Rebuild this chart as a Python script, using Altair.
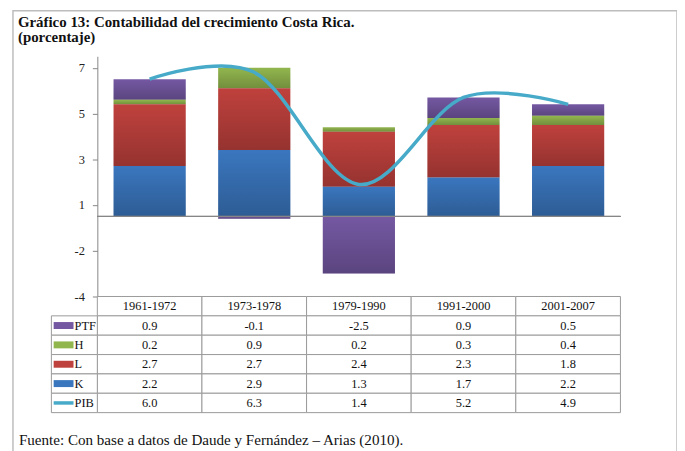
import altair as alt
import pandas as pd

periods = ["1961-1972", "1973-1978", "1979-1990", "1991-2000", "2001-2007"]
ptf = [0.9, -0.1, -2.5, 0.9, 0.5]
h = [0.2, 0.9, 0.2, 0.3, 0.4]
l = [2.7, 2.7, 2.4, 2.3, 1.8]
k = [2.2, 2.9, 1.3, 1.7, 2.2]
pib = [6.0, 6.3, 1.4, 5.2, 4.9]

series_names = ["PTF", "H", "L", "K", "PIB"]
series_colors = ["#7458A2", "#92B64E", "#BF413D", "#3A76BE", "#46AAC8"]
stack_order = {"K": 0, "L": 1, "H": 2, "PTF": 3}
y_ticks = [-3.5, -1.5, 0.5, 2.5, 4.5, 6.5]

title_lines = ["Gráfico 13: Contabilidad del crecimiento Costa Rica.", "(porcentaje)"]
footer_text = "Fuente: Con base a datos de Daude y Fernández – Arias (2010)."

FONT = "Liberation Serif"

bar_rows = []
for name, vals in [("PTF", ptf), ("H", h), ("L", l), ("K", k)]:
    for p, v in zip(periods, vals):
        bar_rows.append({"period": p, "series": name, "value": v, "ord": stack_order[name]})
bars_df = pd.DataFrame(bar_rows)
line_df = pd.DataFrame({"period": periods, "pib": pib})

table_rows = ["hdr"] + series_names
cell_rows = []
for i, p in enumerate(periods):
    cell_rows.append({"period": p, "row": "hdr", "txt": p})
    for name, vals in [("PTF", ptf), ("H", h), ("L", l), ("K", k), ("PIB", pib)]:
        cell_rows.append({"period": p, "row": name, "txt": f"{vals[i]:.1f}"})
cells_df = pd.DataFrame(cell_rows)
legend_df = pd.DataFrame({"row": series_names, "sw": [7, 7, 7, 7, 3.5]})

color_scale = alt.Scale(domain=series_names, range=series_colors)
x_main = alt.X("period:N", sort=periods, axis=None,
               scale=alt.Scale(paddingInner=0.31, paddingOuter=0.155))
y_scale = alt.Scale(domain=[-3.5, 7], nice=False, zero=False)

bars = alt.Chart(bars_df).mark_bar().encode(
    x=x_main,
    y=alt.Y("value:Q", scale=y_scale, stack="zero",
            axis=alt.Axis(values=y_ticks, grid=False, title=None,
                          labelExpr="datum.value < 0 ? '-' + round(-datum.value) : '' + round(datum.value)",
                          domainColor="#868686", tickColor="#868686", tickSize=5,
                          labelPadding=8, labelFont=FONT, labelFontSize=12.5, labelColor="#222")),
    color=alt.Color("series:N", scale=color_scale, legend=None),
    order=alt.Order("ord:Q"),
)
shade = alt.Chart(bars_df).mark_bar(
    color=alt.Gradient(gradient="linear", x1=0, x2=0, y1=0, y2=1,
                       stops=[alt.GradientStop(offset=0, color="rgba(0,0,0,0)"),
                              alt.GradientStop(offset=1, color="rgba(0,0,0,0.22)")])
).encode(
    x=x_main,
    y=alt.Y("value:Q", scale=y_scale, stack="zero"),
    detail="series:N",
    order=alt.Order("ord:Q"),
)
zero = alt.Chart(line_df).mark_rule(color="#868686", strokeWidth=1).encode(
    y=alt.Y(datum=0, scale=y_scale)
)
line = alt.Chart(line_df).mark_line(interpolate="cardinal", color="#46AAC8", strokeWidth=3.5).encode(
    x=x_main,
    y=alt.Y("pib:Q", scale=y_scale),
)

main = alt.layer(bars, shade, zero, line)

tab_y_scale = alt.Scale(domain=table_rows, range=[242, 359], paddingInner=0, paddingOuter=0)
x_tab = alt.X("period:N", sort=periods, axis=None, scale=alt.Scale(paddingInner=0, paddingOuter=0))
y_tab = alt.Y("row:N", sort=table_rows, axis=None, scale=tab_y_scale)

cells = alt.Chart(cells_df).mark_rect(fill="white", stroke="#9a9a9a", strokeWidth=1).encode(
    x=x_tab, y=y_tab
)
texts = alt.Chart(cells_df).mark_text(font=FONT, fontSize=12.5, color="#111").encode(
    x=x_tab, y=y_tab, text="txt:N"
)
leg_cells = alt.Chart(legend_df).mark_rect(fill="white", stroke="#9a9a9a", strokeWidth=1).encode(
    x=alt.value(-46.3), x2=alt.value(0), y=y_tab
)
swatches = alt.Chart(legend_df).mark_rule(strokeCap="butt").encode(
    x=alt.value(-44), x2=alt.value(-24),
    y=alt.Y("row:N", sort=table_rows, axis=None, bandPosition=0.5, scale=tab_y_scale),
    color=alt.Color("row:N", scale=color_scale, legend=None),
    strokeWidth=alt.StrokeWidth("sw:Q", scale=None),
)
labels = alt.Chart(legend_df).mark_text(font=FONT, fontSize=12.5, align="left", color="#111").encode(
    x=alt.value(-23), y=y_tab, text="row:N"
)

table = alt.layer(cells, texts, leg_cells, swatches, labels)

one = pd.DataFrame({"a": [0]})
frame = alt.Chart(one).mark_rect(fillOpacity=0, stroke="#bdbdbd", strokeWidth=1.5).encode(
    x=alt.value(-85), x2=alt.value(584), y=alt.value(-46), y2=alt.value(420)
)
title1 = alt.Chart(one).mark_text(
    font=FONT, fontSize=15, fontWeight="bold", align="left", baseline="alphabetic", color="#111"
).encode(x=alt.value(-80), y=alt.value(-30), text=alt.value(title_lines[0]))
title2 = alt.Chart(one).mark_text(
    font=FONT, fontSize=15, fontWeight="bold", align="left", baseline="alphabetic", color="#111"
).encode(x=alt.value(-80), y=alt.value(-14), text=alt.value(title_lines[1]))
footer = alt.Chart(one).mark_text(
    font=FONT, fontSize=15.2, align="left", baseline="alphabetic", color="#111"
).encode(x=alt.value(-79), y=alt.value(392), text=alt.value(footer_text))

chart = alt.layer(frame, main, table, title1, title2, footer).resolve_scale(
    x="independent", y="independent"
).properties(
    width=527, height=242,
    padding={"left": 90, "top": 47, "right": 57, "bottom": 154},
    autosize=alt.AutoSizeParams(type="none"),
).configure_view(stroke=None)

chart.save("out.html", embed_options={"renderer": "svg", "actions": False})
